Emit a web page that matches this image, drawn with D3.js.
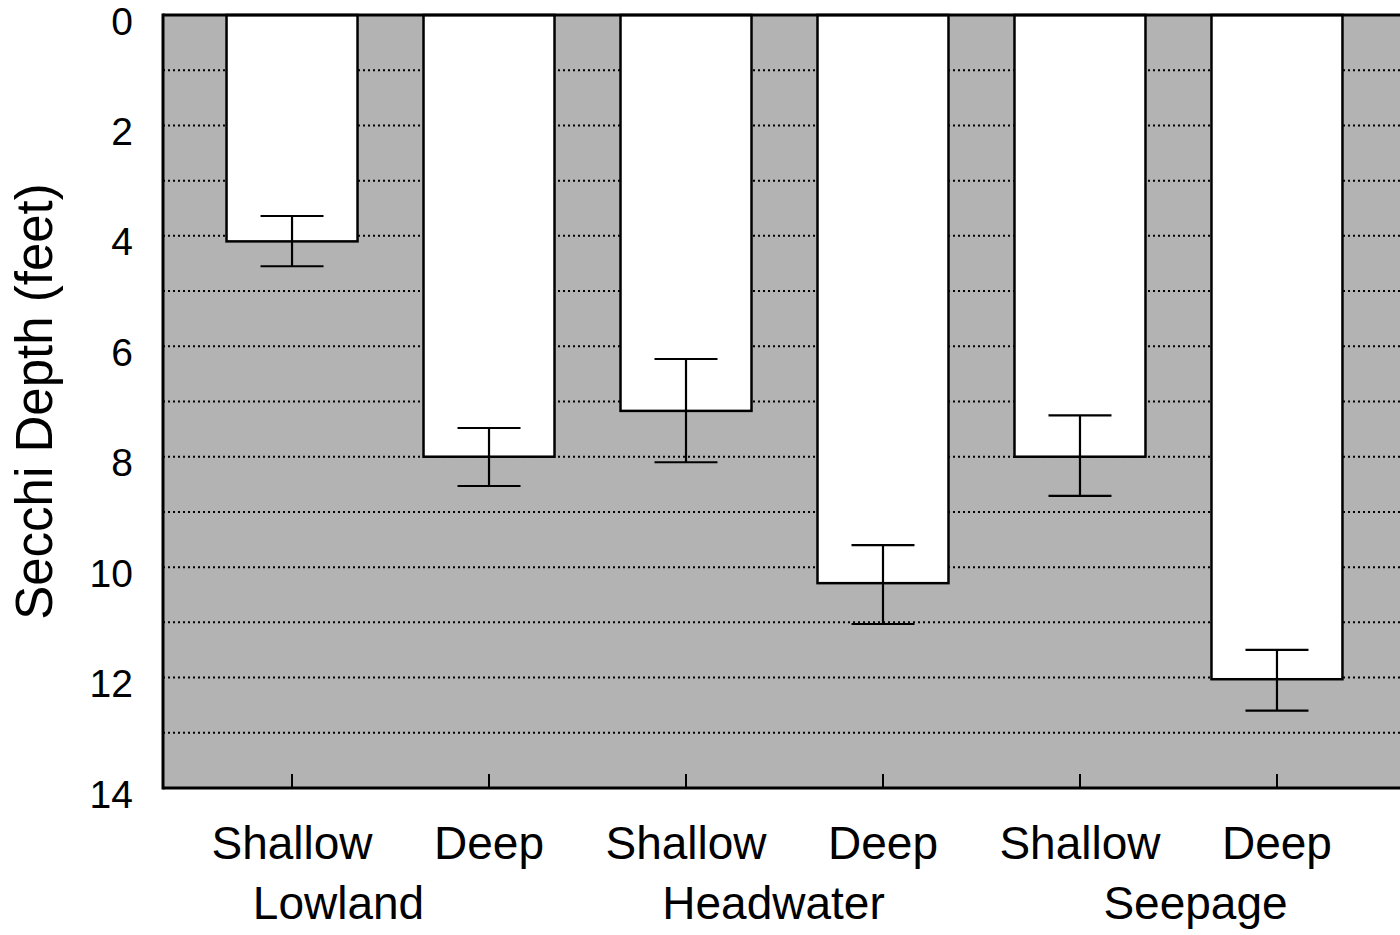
<!DOCTYPE html>
<html>
<head>
<meta charset="utf-8">
<script src="https://cdn.jsdelivr.net/npm/d3@7"></script>
<style>
  body { margin: 0; background: #fff; }
  svg { display: block; font-family: "Liberation Sans", Arial, sans-serif; }
</style>
</head>
<body>
<div id="container"></div>
<script>
// Secchi depth by lake type
const categories = ["Lowland Shallow", "Lowland Deep", "Headwater Shallow", "Headwater Deep", "Seepage Shallow", "Seepage Deep"];
const depthLabels = ["Shallow", "Deep", "Shallow", "Deep", "Shallow", "Deep"];
const means = [4.1, 8.0, 7.17, 10.29, 8.0, 12.03];
const errLow = [3.64, 7.48, 6.23, 9.6, 7.25, 11.5];
const errHigh = [4.55, 8.53, 8.1, 11.03, 8.71, 12.6];
const groups = ["Lowland", "Headwater", "Seepage"];
const yTicks = [0, 2, 4, 6, 8, 10, 12, 14];
const gridValues = [1, 2, 3, 4, 5, 6, 7, 8, 9, 10, 11, 12, 13];

const width = 1400, height = 935;
const plotLeft = 163, plotTop = 15, plotBottom = 788, plotRight = 1406;

const svg = d3.select("#container").append("svg")
    .attr("width", width)
    .attr("height", height);

const x = d3.scalePoint()
    .domain(categories)
    .range([plotLeft, plotRight])
    .padding(0.655);

const y = d3.scaleLinear()
    .domain([0, 14])
    .range([plotTop, plotBottom]);

const barW = x.step() * 0.665;
const capW = 63;

// plot background
svg.append("rect")
    .attr("x", plotLeft)
    .attr("y", plotTop)
    .attr("width", plotRight - plotLeft)
    .attr("height", plotBottom - plotTop)
    .attr("fill", "#b3b3b3");

// dotted gridlines
svg.append("g")
  .selectAll("line")
  .data(gridValues)
  .join("line")
    .attr("x1", plotLeft)
    .attr("x2", plotRight)
    .attr("y1", d => y(d))
    .attr("y2", d => y(d))
    .attr("stroke", "#000")
    .attr("stroke-width", 2)
    .attr("stroke-dasharray", "2,3");

// bars
svg.append("g")
  .selectAll("rect")
  .data(categories)
  .join("rect")
    .attr("x", d => x(d) - barW / 2)
    .attr("y", y(0))
    .attr("width", barW)
    .attr("height", (d, i) => y(means[i]) - y(0))
    .attr("fill", "#fff")
    .attr("stroke", "#000")
    .attr("stroke-width", 2.5);

// error bars
const eb = svg.append("g")
    .attr("stroke", "#000")
    .attr("stroke-width", 2.2);

categories.forEach((c, i) => {
  const cx = x(c);
  eb.append("line")
      .attr("x1", cx).attr("x2", cx)
      .attr("y1", y(errLow[i])).attr("y2", y(errHigh[i]));
  eb.append("line")
      .attr("x1", cx - capW / 2).attr("x2", cx + capW / 2)
      .attr("y1", y(errLow[i])).attr("y2", y(errLow[i]));
  eb.append("line")
      .attr("x1", cx - capW / 2).attr("x2", cx + capW / 2)
      .attr("y1", y(errHigh[i])).attr("y2", y(errHigh[i]));
});

// frame: top, left, bottom
svg.append("line")
    .attr("x1", plotLeft).attr("x2", plotRight)
    .attr("y1", plotTop).attr("y2", plotTop)
    .attr("stroke", "#000").attr("stroke-width", 3);
svg.append("line")
    .attr("x1", plotLeft).attr("x2", plotLeft)
    .attr("y1", plotTop - 1.5).attr("y2", plotBottom + 1.5)
    .attr("stroke", "#000").attr("stroke-width", 3);
svg.append("line")
    .attr("x1", plotLeft).attr("x2", plotRight)
    .attr("y1", plotBottom).attr("y2", plotBottom)
    .attr("stroke", "#000").attr("stroke-width", 3);

// inner tick marks at categories
svg.append("g")
  .selectAll("line")
  .data(categories)
  .join("line")
    .attr("x1", d => x(d)).attr("x2", d => x(d))
    .attr("y1", plotBottom).attr("y2", plotBottom - 14)
    .attr("stroke", "#000")
    .attr("stroke-width", 2);

// y tick labels (digit centre sits ~5px below the gridline)
svg.append("g")
  .selectAll("text")
  .data(yTicks)
  .join("text")
    .attr("x", 133)
    .attr("y", d => y(d) + 19.5)
    .attr("text-anchor", "end")
    .attr("font-size", 39)
    .text(d => d);

// x category labels
svg.append("g")
  .selectAll("text")
  .data(categories)
  .join("text")
    .attr("x", d => x(d))
    .attr("y", 859)
    .attr("text-anchor", "middle")
    .attr("font-size", 46)
    .text((d, i) => depthLabels[i]);

// group labels
const groupShift = [-52, -11, 17];
svg.append("g")
  .selectAll("text")
  .data(groups)
  .join("text")
    .attr("x", (d, i) => (x(categories[i * 2]) + x(categories[i * 2 + 1])) / 2 + groupShift[i])
    .attr("y", 919)
    .attr("text-anchor", "middle")
    .attr("font-size", 46)
    .text(d => d);

// y axis title
svg.append("text")
    .attr("transform", `translate(52, ${(plotTop + plotBottom) / 2}) rotate(-90)`)
    .attr("text-anchor", "middle")
    .attr("font-size", 51)
    .text("Secchi Depth (feet)");
</script>
</body>
</html>
